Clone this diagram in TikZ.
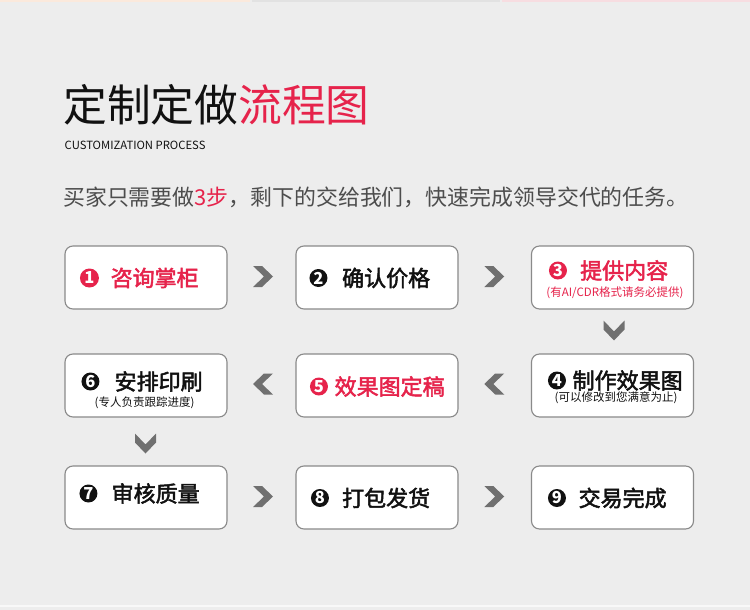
\documentclass[tikz,border=0pt]{standalone}
\usepackage{fontspec}
\setmainfont{Noto Sans CJK SC}
\newfontfamily\cjkmid{Noto Sans CJK SC}[FakeBold=2.2]
\usetikzlibrary{calc}
\definecolor{bg}{HTML}{EDEDED}
\definecolor{accent}{HTML}{E6234B}
\definecolor{chevgray}{HTML}{707070}
\definecolor{boxline}{HTML}{8A8A8A}
\definecolor{subgray}{HTML}{4D4D4D}
\definecolor{inkblack}{HTML}{111111}
\definecolor{stripeA}{HTML}{FBE9DC}
\definecolor{stripeB}{HTML}{E2E2E2}
\definecolor{stripeC}{HTML}{F7DDE1}
\tikzset{
  stepbox/.style={draw=boxline, line width=1.1pt, fill=white, rounded corners=8pt,
    minimum width=162pt, minimum height=63pt, inner sep=0pt},
  numc/.style={circle, inner sep=0pt, minimum size=18pt, text=white,
    font=\fontsize{16.5}{16.5}\selectfont\bfseries},
  ttl/.style={anchor=west, inner sep=0pt, font=\fontsize{22}{22}\selectfont\cjkmid},
  subt/.style={inner sep=0pt, font=\fontsize{11.5}{12}\selectfont},
  chev/.pic={\fill[chevgray] (-10,-10.5)--(-1,-10.5)--(10,0)--(-1,10.5)--(-10,10.5)--(1,0)--cycle;}
}
\begin{document}
\begin{tikzpicture}[x=1pt,y=-1pt]
\useasboundingbox (0,0) rectangle (750,610);
\fill[bg] (0,0) rectangle (750,610);
\fill[stripeA] (0,0) rectangle (250,2);
\fill[stripeB] (252,0) rectangle (500,2);
\fill[stripeC] (502,0) rectangle (750,2);
\fill[white!60!bg] (0,605) rectangle (750,607);

% title
\node[anchor=west, inner sep=0pt, font=\fontsize{43.8}{44}\selectfont, text=inkblack] (title) at (63,105)
  {定制定做\textcolor{accent}{流程图}};
\node[anchor=west, inner sep=0pt, font=\fontsize{11.3}{11.3}\selectfont, text=inkblack] (eng) at (64.5,145.5)
  {CUSTOMIZATION PROCESS};
\node[anchor=west, inner sep=0pt, font=\fontsize{21.9}{22}\selectfont, text=subgray] (intro) at (63,197)
  {买家只需要做\textcolor{accent}{3步}，剩下的交给我们，快速完成领导交代的任务。};

% boxes
\node[stepbox] (b1) at (146,277.5) {};
\node[stepbox] (b2) at (377,277.5) {};
\node[stepbox] (b3) at (612.5,277.5) {};
\node[stepbox] (b4) at (612.5,385.5) {};
\node[stepbox] (b5) at (377,385.5) {};
\node[stepbox] (b6) at (146,385.5) {};
\node[stepbox] (b7) at (146,497.5) {};
\node[stepbox] (b8) at (377,497.5) {};
\node[stepbox] (b9) at (612.5,497.5) {};

% box contents
\node[numc, fill=accent, minimum size=19pt] (n1) at ($(b1.west)+(25,0.5)$) {1};
\node[ttl, text=accent] (t1) at ($(b1.west)+(46,0.5)$) {咨询掌柜};

\node[numc, fill=inkblack] (n2) at ($(b2.west)+(23,0.5)$) {2};
\node[ttl, text=inkblack] (t2) at ($(b2.west)+(46.5,0.5)$) {确认价格};

\node[numc, fill=accent] (n3) at ($(b3.west)+(27,-7)$) {3};
\node[ttl, text=accent] (t3) at ($(b3.west)+(49,-7)$) {提供内容};
\node[subt, text=accent] (s3) at ($(b3.center)+(2.5,15.5)$) {(有AI/CDR格式请务必提供)};

\node[numc, fill=inkblack] (n4) at ($(b4.west)+(26,-5)$) {4};
\node[ttl, text=inkblack] (t4) at ($(b4.west)+(41.5,-5)$) {制作效果图};
\node[subt, text=inkblack] (s4) at ($(b4.center)+(3.5,12.5)$) {(可以修改到您满意为止)};

\node[numc, fill=accent] (n5) at ($(b5.west)+(23.5,1)$) {5};
\node[ttl, text=accent] (t5) at ($(b5.west)+(39,1)$) {效果图定稿};

\node[numc, fill=inkblack] (n6) at ($(b6.west)+(26,-4)$) {6};
\node[ttl, text=inkblack] (t6) at ($(b6.west)+(50,-4)$) {安排印刷};
\node[subt, text=inkblack] (s6) at ($(b6.center)+(-1.5,17.5)$) {(专人负责跟踪进度)};

\node[numc, fill=inkblack] (n7) at ($(b7.west)+(24,-4)$) {7};
\node[ttl, text=inkblack] (t7) at ($(b7.west)+(47,-4)$) {审核质量};

\node[numc, fill=inkblack] (n8) at ($(b8.west)+(24.5,0.5)$) {8};
\node[ttl, text=inkblack] (t8) at ($(b8.west)+(46.5,0.5)$) {打包发货};

\node[numc, fill=inkblack] (n9) at ($(b9.west)+(26,0.5)$) {9};
\node[ttl, text=inkblack] (t9) at ($(b9.west)+(47.5,0.5)$) {交易完成};

% chevrons
\pic at ($(b1.east)!0.5!(b2.west)+(1.5,-1)$) {chev};
\pic at ($(b2.east)!0.5!(b3.west)+(-0.5,-1)$) {chev};
\pic[rotate=-90] at ($(b3.south)!0.5!(b4.north)+(1.5,-1)$) {chev};
\pic[rotate=180] at ($(b4.west)!0.5!(b5.east)+(-0.5,-1.5)$) {chev};
\pic[rotate=180] at ($(b5.west)!0.5!(b6.east)+(1.5,-1.5)$) {chev};
\pic[rotate=-90] at ($(b6.south)!0.5!(b7.north)+(-0.5,2)$) {chev};
\pic at ($(b7.east)!0.5!(b8.west)+(1.5,-1)$) {chev};
\pic at ($(b8.east)!0.5!(b9.west)+(-0.5,-1)$) {chev};
\end{tikzpicture}
\end{document}
